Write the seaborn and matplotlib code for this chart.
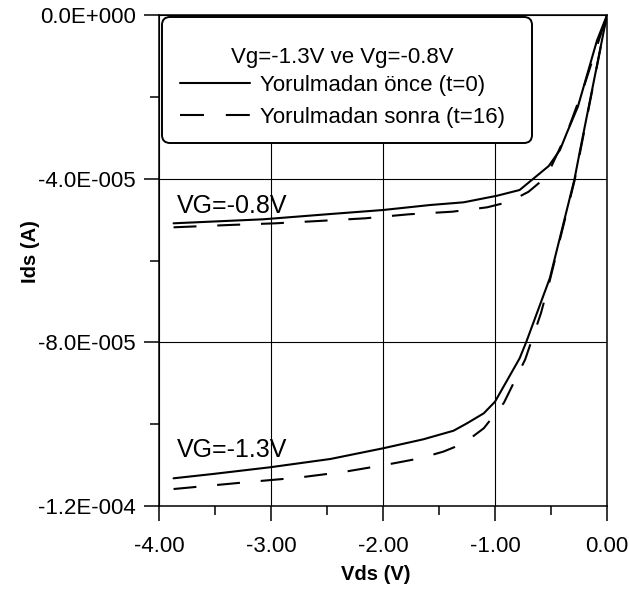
import numpy as np
import pandas as pd
import matplotlib
matplotlib.use("Agg")
import matplotlib.pyplot as plt
from matplotlib.lines import Line2D
from matplotlib.patches import FancyBboxPatch
from matplotlib.ticker import FixedLocator
import seaborn as sns

# ---------------- data ----------------
vds_08_before = [-3.87, -3.07, -2.47, -2.00, -1.58, -1.28, -0.98, -0.78, -0.52, -0.42, -0.36, -0.26, -0.09, 0.0]
ids_08_before = [-5.091e-5, -4.993e-5, -4.864e-5, -4.766e-5, -4.644e-5, -4.578e-5, -4.416e-5, -4.277e-5,
                 -3.690e-5, -3.299e-5, -2.891e-5, -2.241e-5, -0.628e-5, 0.0]

vds_08_after = [-3.87, -3.37, -2.96, -2.58, -2.16, -1.77, -1.38, -1.07, -0.87, -0.70, -0.54, -0.36, -0.20, 0.0]
ids_08_after = [-5.189e-5, -5.132e-5, -5.091e-5, -5.035e-5, -4.969e-5, -4.871e-5, -4.807e-5, -4.700e-5,
                -4.563e-5, -4.319e-5, -3.952e-5, -2.900e-5, -1.700e-5, 0.0]

vds_13_before = [-3.87, -3.52, -3.01, -2.47, -2.00, -1.64, -1.37, -1.25, -1.10, -1.00, -0.78, -0.72, -0.51, -0.29, -0.24, 0.0]
ids_13_before = [-1.1323e-4, -1.1218e-4, -1.1054e-4, -1.0851e-4, -1.0590e-4, -1.0370e-4, -1.0160e-4, -9.979e-5,
                 -9.734e-5, -9.451e-5, -8.390e-5, -7.985e-5, -6.428e-5, -4.008e-5, -3.299e-5, 0.0]

vds_13_after = [-3.87, -3.17, -2.76, -2.34, -1.97, -1.67, -1.46, -1.28, -1.10, -0.92, -0.73, -0.59, -0.51, -0.29, 0.0]
ids_13_after = [-1.1585e-4, -1.1406e-4, -1.1308e-4, -1.1162e-4, -1.0991e-4, -1.0835e-4, -1.067e-4, -1.047e-4,
                -1.010e-4, -9.475e-5, -8.415e-5, -7.29e-5, -6.48e-5, -4.05e-5, 0.0]

state_labels = ["Yorulmadan önce (t=0)", "Yorulmadan sonra (t=16)"]
legend_title = "Vg=-1.3V ve Vg=-0.8V"
curve_labels = ["VG=-0.8V", "VG=-1.3V"]

x_ticks = [-4.0, -3.0, -2.0, -1.0, 0.0]
x_tick_labels = ["-4.00", "-3.00", "-2.00", "-1.00", "0.00"]
x_minor = [-3.5, -2.5, -1.5, -0.5]
y_ticks = [0.0, -4e-5, -8e-5, -1.2e-4]
y_tick_labels = ["0.0E+000", "-4.0E-005", "-8.0E-005", "-1.2E-004"]
y_minor = [-2e-5, -6e-5, -1e-4]

x_label = "Vds (V)"
y_label = "Ids (A)"

# ---------------- table ----------------
frames = []
for vg, st, xs, ys in [("-0.8", "before", vds_08_before, ids_08_before),
                       ("-0.8", "after", vds_08_after, ids_08_after),
                       ("-1.3", "before", vds_13_before, ids_13_before),
                       ("-1.3", "after", vds_13_after, ids_13_after)]:
    frames.append(pd.DataFrame({"Vds": xs, "Ids": ys, "Vg": vg, "state": st,
                                "unit": vg + st}))
df = pd.concat(frames, ignore_index=True)

# ---------------- style ----------------
sns.set_style("white")
plt.rcParams["font.family"] = ["Liberation Sans", "DejaVu Sans"]
plt.rcParams["axes.unicode_minus"] = False
for k in ["text.color", "axes.labelcolor", "xtick.color", "ytick.color", "axes.edgecolor"]:
    plt.rcParams[k] = "black"

fig = plt.figure(figsize=(6.29, 5.89), dpi=100)
AX_L, AX_R, AX_T, AX_B = 159, 607, 15, 506
ax = fig.add_axes([AX_L / 629, 1 - AX_B / 589, (AX_R - AX_L) / 629, (AX_B - AX_T) / 589])
W, H = AX_R - AX_L, AX_B - AX_T

sns.lineplot(data=df, x="Vds", y="Ids", units="unit", style="state",
             style_order=["before", "after"],
             dashes={"before": "", "after": (11, 10)},
             estimator=None, sort=False, color="black", linewidth=1.5,
             legend=False, ax=ax, zorder=3)

ax.set_xlim(-4.0, 0.0)
ax.set_ylim(-1.2e-4, 0.0)

ax.xaxis.set_major_locator(FixedLocator(x_ticks))
ax.xaxis.set_minor_locator(FixedLocator(x_minor))
ax.set_xticklabels(x_tick_labels)
ax.yaxis.set_major_locator(FixedLocator(y_ticks))
ax.yaxis.set_minor_locator(FixedLocator(y_minor))
ax.set_yticklabels(y_tick_labels)

ax.tick_params(axis="both", which="major", direction="out", color="black",
               width=1.1, length=10.8, labelsize=16, labelcolor="black")
ax.tick_params(axis="x", which="major", pad=10.5)
ax.tick_params(axis="y", which="major", pad=5.8)
ax.tick_params(axis="both", which="minor", direction="out", color="black",
               width=1.1, length=6.5)
ax.xaxis.set_ticks_position("bottom")
ax.yaxis.set_ticks_position("left")

for sp in ax.spines.values():
    sp.set_visible(True)
    sp.set_color("black")
    sp.set_linewidth(1.1)

ax.grid(True, which="major", color="black", linewidth=0.8)
ax.set_axisbelow(True)

ax.set_xlabel(x_label, fontsize=14.5, fontweight="bold")
ax.set_ylabel(y_label, fontsize=14.5, fontweight="bold")
ax.xaxis.set_label_coords((376 - AX_L) / W, (AX_B - 565) / H)
ax.yaxis.set_label_coords((40 - AX_L) / W, (AX_B - 252) / H)

# curve annotations
ax.text(-3.84, -4.84e-5, curve_labels[0], fontsize=18, va="baseline", ha="left", zorder=4)
ax.text(-3.84, -1.080e-4, curve_labels[1], fontsize=18, va="baseline", ha="left", zorder=4)

# legend frame (rounded box)
bx0, bx1, by0, by1 = 162, 532, 17, 143
frame = FancyBboxPatch(((bx0 - AX_L) / W, (AX_B - by1) / H), (bx1 - bx0) / W, (by1 - by0) / H,
                       boxstyle="round,pad=0,rounding_size=0.018", mutation_aspect=W / H,
                       transform=ax.transAxes, facecolor="white", edgecolor="black",
                       linewidth=1.4, zorder=5, clip_on=False)
ax.add_patch(frame)

handles = [Line2D([], [], color="black", linewidth=1.5, linestyle="-"),
           Line2D([], [], color="black", linewidth=1.5, linestyle=(0, (11.5, 10.5)))]
leg = ax.legend(handles, state_labels, title=legend_title, loc="upper left",
                bbox_to_anchor=((180 - AX_L) / W, (AX_B - 47) / H), borderaxespad=0,
                borderpad=0, prop={"size": 16}, title_fontproperties={"size": 16},
                frameon=False, handlelength=3.15, handletextpad=0.45, labelspacing=0.5)
leg._legend_box.sep = 0.32 * 16
leg.set_zorder(6)

fig.savefig("out.png", dpi=100)
